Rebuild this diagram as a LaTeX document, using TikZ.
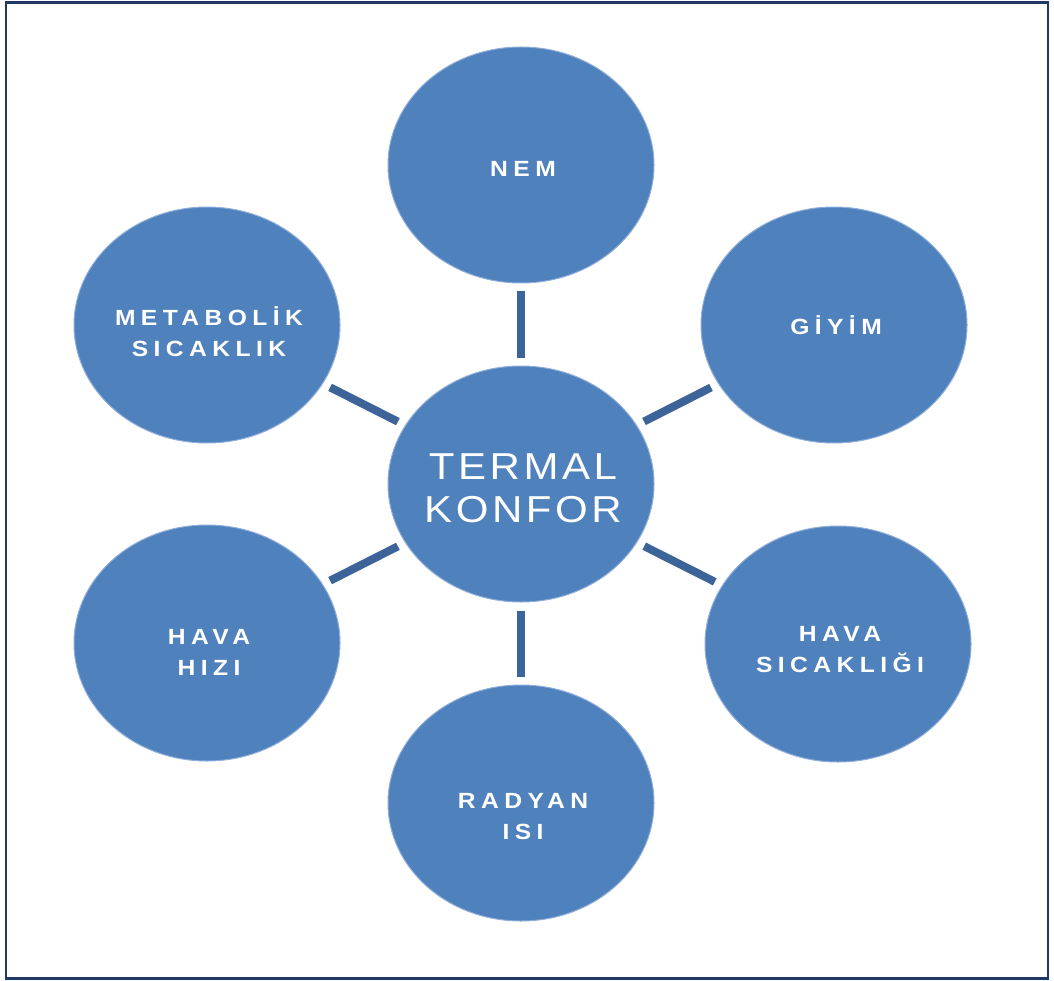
\documentclass[tikz,border=0pt]{standalone}
\usepackage{fontspec}
\usepackage{graphicx}
\setmainfont{Liberation Sans}
\usetikzlibrary{shapes.geometric}
\definecolor{bubfill}{HTML}{4F81BD}
\definecolor{bubrim}{HTML}{8FAEDA}
\definecolor{linkcol}{HTML}{3D6499}
\definecolor{framecol}{HTML}{1F3864}
\newfontfamily\smallfont[LetterSpace=22]{Liberation Sans Bold}
\newfontfamily\bigfont[LetterSpace=8.5]{Liberation Sans}
\newcommand\widetxt[1]{\scalebox{1.12}[1]{\begin{tabular}{@{}c@{}}#1\end{tabular}}}
\tikzset{
  bub/.style={ellipse, fill=bubfill, draw=bubrim, line width=1pt,
    minimum width=266pt, minimum height=236pt, inner sep=0pt},
  lbl/.style={text=white, inner sep=0pt,
    font=\smallfont\fontsize{22}{31}\selectfont},
  biglbl/.style={text=white, inner sep=0pt,
    font=\bigfont\fontsize{37.5}{43}\selectfont},
  link/.style={draw=linkcol, line width=8pt, shorten <=8pt, shorten >=8pt}
}
\begin{document}
\begin{tikzpicture}[x=1pt,y=-1pt]
\useasboundingbox (0,0) rectangle (1054,981);
\fill[white] (0,0) rectangle (1054,981);
\draw[framecol, line width=2.5pt] (6,2.5) rectangle (1048,978.5);

\node[bub] (c)   at (521,484) {};
\node[bub] (nem) at (521,165) {};
\node[bub] (giy) at (834,325) {};
\node[bub] (hsc) at (838,644) {};
\node[bub] (rad) at (521,803) {};
\node[bub] (hhz) at (207,643) {};
\node[bub] (met) at (207,325) {};

\draw[link] (nem) -- (c);
\draw[link] (giy) -- (c);
\draw[link] (hsc) -- (c);
\draw[link] (rad) -- (c);
\draw[link] (hhz) -- (c);
\draw[link] (met) -- (c);

\node[biglbl] (ct)   at (523,492) {\widetxt{TERMAL\\KONFOR}};
\node[lbl]    (nemt) at (523,170) {\widetxt{NEM}};
\node[lbl]    (giyt) at (836,328) {\widetxt{GİYİM}};
\node[lbl]    (hsct) at (840,651) {\widetxt{HAVA\\SICAKLIĞI}};
\node[lbl]    (radt) at (523,818) {\widetxt{RADYAN\\ISI}};
\node[lbl]    (hhzt) at (209,654) {\widetxt{HAVA\\HIZI}};
\node[lbl]    (mett) at (209,335) {\widetxt{METABOLİK\\SICAKLIK}};
\end{tikzpicture}
\end{document}
